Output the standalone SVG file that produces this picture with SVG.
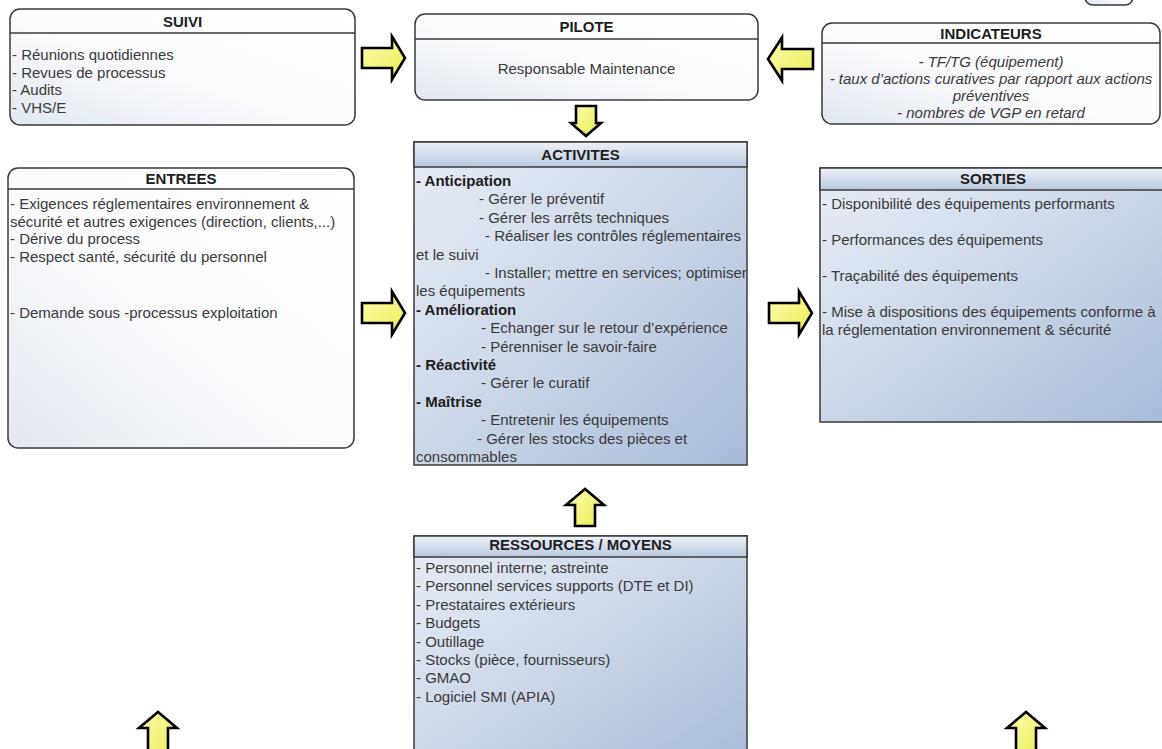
<svg xmlns="http://www.w3.org/2000/svg" width="1162" height="749" viewBox="0 0 1162 749">
  <defs>
    <linearGradient id="gWhite" x1="1" y1="0" x2="0" y2="1">
      <stop offset="0" stop-color="#ffffff"/>
      <stop offset="0.55" stop-color="#fafbfd"/>
      <stop offset="1" stop-color="#e2e8f1"/>
    </linearGradient>
    <linearGradient id="gBlue" x1="0" y1="0" x2="1" y2="1">
      <stop offset="0" stop-color="#e8edf6"/>
      <stop offset="0.5" stop-color="#cbd7e8"/>
      <stop offset="1" stop-color="#a7bbd7"/>
    </linearGradient>
    <linearGradient id="gBlueHead" x1="0" y1="0" x2="0" y2="1">
      <stop offset="0" stop-color="#eef2f8"/>
      <stop offset="1" stop-color="#b9c8de"/>
    </linearGradient>
    <linearGradient id="gArrow" x1="0" y1="0" x2="1" y2="1">
      <stop offset="0" stop-color="#fdfdb0"/>
      <stop offset="1" stop-color="#ecec55"/>
    </linearGradient>
    <style>
      .box { stroke: #3a3a3a; stroke-width: 1.5; }
      .white { fill: url(#gWhite); }
      .blue { fill: url(#gBlue); }
      .bhead { fill: url(#gBlueHead); stroke: #3a3a3a; stroke-width: 1.5; }
      .sep { stroke: #3a3a3a; stroke-width: 1.5; fill: none; }
      .title { font-family: "Liberation Sans", Arial, sans-serif; font-size: 15px; font-weight: bold; fill: #1e1e1e; text-anchor: middle; }
      .txt { font-family: "Liberation Sans", Arial, sans-serif; font-size: 15px; fill: #3a3a3a; }
      .b { font-weight: bold; fill: #1e1e1e; }
      .ctr { text-anchor: middle; }
      .it { font-style: italic; }
      .arrow { fill: url(#gArrow); stroke: #000000; stroke-width: 2.6; stroke-linejoin: miter; }
    </style>
  </defs>

  <rect x="0" y="0" width="1162" height="749" fill="#ffffff"/>

  <!-- box partly visible at the top right corner -->
  <g id="box-top-right">
    <rect class="box white" x="1085" y="-40" width="48" height="45" rx="8"/>
  </g>

  <!-- SUIVI -->
  <g id="suivi">
    <rect class="box white" x="10" y="9" width="345" height="116" rx="10"/>
    <line class="sep" x1="10" y1="33" x2="355" y2="33"/>
    <text class="title" x="182.5" y="27">SUIVI</text>
    <text class="txt" x="12" y="60">- Réunions quotidiennes</text>
    <text class="txt" x="12" y="77.5">- Revues de processus</text>
    <text class="txt" x="12" y="95">- Audits</text>
    <text class="txt" x="12" y="112.5">- VHS/E</text>
  </g>

  <!-- PILOTE -->
  <g id="pilote">
    <rect class="box white" x="415" y="14" width="343" height="86" rx="10"/>
    <line class="sep" x1="415" y1="39" x2="758" y2="39"/>
    <text class="title" x="586.5" y="31.5">PILOTE</text>
    <text class="txt ctr" x="586.5" y="74">Responsable Maintenance</text>
  </g>

  <!-- INDICATEURS -->
  <g id="indicateurs">
    <rect class="box white" x="822" y="23" width="338" height="101" rx="10"/>
    <line class="sep" x1="822" y1="43" x2="1160" y2="43"/>
    <text class="title" x="991" y="38.5">INDICATEURS</text>
    <text class="txt ctr it" x="991" y="67">- TF/TG (équipement)</text>
    <text class="txt ctr it" x="991" y="84">- taux d’actions curatives par rapport aux actions</text>
    <text class="txt ctr it" x="991" y="101">préventives</text>
    <text class="txt ctr it" x="991" y="118">- nombres de VGP en retard</text>
  </g>

  <!-- ENTREES -->
  <g id="entrees">
    <rect class="box white" x="8" y="168" width="346" height="280" rx="10"/>
    <line class="sep" x1="8" y1="189" x2="354" y2="189"/>
    <text class="title" x="181" y="183.5">ENTREES</text>
    <text class="txt" x="10" y="209">- Exigences réglementaires environnement &amp;</text>
    <text class="txt" x="10" y="226.5">sécurité et autres exigences (direction, clients,...)</text>
    <text class="txt" x="10" y="244">- Dérive du process</text>
    <text class="txt" x="10" y="261.5">- Respect santé, sécurité du personnel</text>
    <text class="txt" x="10" y="318">- Demande sous -processus exploitation</text>
  </g>

  <!-- ACTIVITES -->
  <g id="activites">
    <rect class="box blue" x="414" y="142" width="333" height="323"/>
    <rect class="bhead" x="414" y="142" width="333" height="25"/>
    <text class="title" x="580.5" y="159.5">ACTIVITES</text>
    <text class="txt b" x="416" y="186">- Anticipation</text>
    <text class="txt" x="479" y="204.4">- Gérer le préventif</text>
    <text class="txt" x="479" y="222.8">- Gérer les arrêts techniques</text>
    <text class="txt" x="485" y="241.2">- Réaliser les contrôles réglementaires</text>
    <text class="txt" x="416" y="259.6">et le suivi</text>
    <text class="txt" x="485" y="278">- Installer; mettre en services; optimiser</text>
    <text class="txt" x="416" y="296.4">les équipements</text>
    <text class="txt b" x="416" y="314.8">- Amélioration</text>
    <text class="txt" x="481" y="333.2">- Echanger sur le retour d’expérience</text>
    <text class="txt" x="481" y="351.6">- Pérenniser le savoir-faire</text>
    <text class="txt b" x="416" y="370">- Réactivité</text>
    <text class="txt" x="481" y="388.4">- Gérer le curatif</text>
    <text class="txt b" x="416" y="406.8">- Maîtrise</text>
    <text class="txt" x="481" y="425.2">- Entretenir les équipements</text>
    <text class="txt" x="477" y="443.6">- Gérer les stocks des pièces et</text>
    <text class="txt" x="416" y="462">consommables</text>
  </g>

  <!-- SORTIES -->
  <g id="sorties">
    <rect class="box blue" x="820" y="168" width="346" height="254"/>
    <rect class="bhead" x="820" y="168" width="346" height="22"/>
    <text class="title" x="993" y="183.5">SORTIES</text>
    <text class="txt" x="822" y="209">- Disponibilité des équipements performants</text>
    <text class="txt" x="822" y="245">- Performances des équipements</text>
    <text class="txt" x="822" y="281">- Traçabilité des équipements</text>
    <text class="txt" x="822" y="317">- Mise à dispositions des équipements conforme à</text>
    <text class="txt" x="822" y="335">la réglementation environnement &amp; sécurité</text>
  </g>

  <!-- RESSOURCES / MOYENS -->
  <g id="ressources">
    <rect class="box blue" x="414" y="536" width="333" height="230"/>
    <rect class="bhead" x="414" y="536" width="333" height="21"/>
    <text class="title" x="580.5" y="549.5">RESSOURCES / MOYENS</text>
    <text class="txt" x="416" y="573">- Personnel interne; astreinte</text>
    <text class="txt" x="416" y="591.4">- Personnel services supports (DTE et DI)</text>
    <text class="txt" x="416" y="609.8">- Prestataires extérieurs</text>
    <text class="txt" x="416" y="628.2">- Budgets</text>
    <text class="txt" x="416" y="646.6">- Outillage</text>
    <text class="txt" x="416" y="665">- Stocks (pièce, fournisseurs)</text>
    <text class="txt" x="416" y="683.4">- GMAO</text>
    <text class="txt" x="416" y="701.8">- Logiciel SMI (APIA)</text>
  </g>

  <!-- block arrows between the boxes -->
  <g id="connectors">
    <!-- SUIVI to PILOTE -->
    <path class="arrow" d="M362,48 H392 V36.5 L405,58 L392,79.5 V68 H362 Z"/>
    <!-- INDICATEURS to PILOTE -->
    <path class="arrow" d="M813,49 H782 V37.5 L768,59 L782,80.5 V69 H813 Z"/>
    <!-- PILOTE to ACTIVITES -->
    <path class="arrow" d="M576,106 H596 V123 H601 L586,136 L571,123 H576 Z"/>
    <!-- ENTREES to ACTIVITES -->
    <path class="arrow" d="M362,303 H392 V291.5 L405,313 L392,334.5 V323 H362 Z"/>
    <!-- ACTIVITES to SORTIES -->
    <path class="arrow" d="M769,303 H799 V291.5 L812,313 L799,334.5 V323 H769 Z"/>
    <!-- RESSOURCES to ACTIVITES -->
    <path class="arrow" d="M575,526 V505 H566 L585,489 L604,505 H595 V526 Z"/>
    <!-- bottom left, rising from below -->
    <path class="arrow" d="M148,760 V728 H139 L158,712 L177,728 H168 V760 Z"/>
    <!-- bottom right, rising from below -->
    <path class="arrow" d="M1016,760 V728 H1007 L1026,712 L1045,728 H1036 V760 Z"/>
  </g>
</svg>
